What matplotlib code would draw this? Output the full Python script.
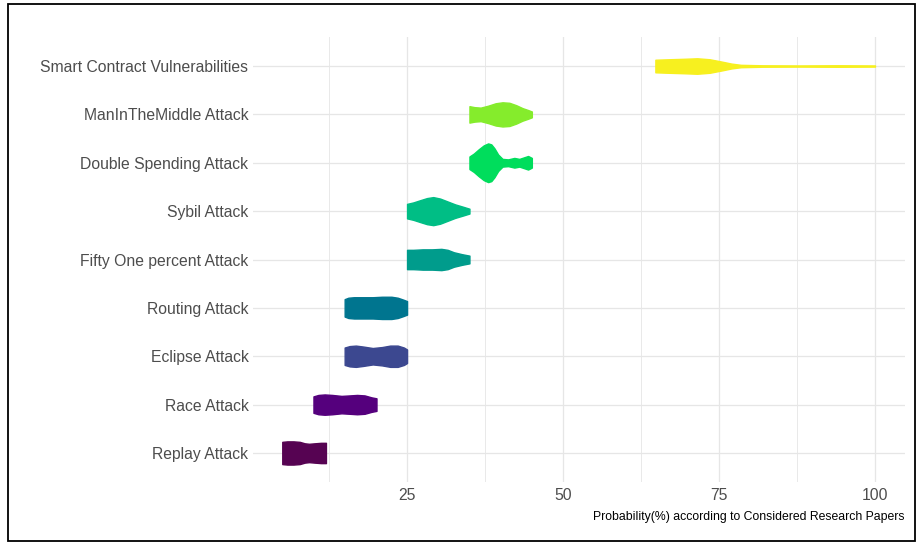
# Attack probability violins (ggplot-like look, viridis palette)

import matplotlib
matplotlib.use('Agg')
import matplotlib.pyplot as plt
from matplotlib.patches import Rectangle

plt.rcParams['font.family'] = ['Liberation Sans', 'DejaVu Sans']

# categories, bottom to top
attacks = ['Replay Attack', 'Race Attack', 'Eclipse Attack', 'Routing Attack',
           'Fifty One percent Attack', 'Sybil Attack', 'Double Spending Attack',
           'ManInTheMiddle Attack', 'Smart Contract Vulnerabilities']

colors = ['#560352', '#55007d', '#3c4890', '#00758f', '#009c8c',
          '#00be85', '#00dd5c', '#85ec2c', '#f7f01f']

# violin profiles: probability (%) and half width (category units)
replay_x = [5.0, 5.8, 6.8, 7.8, 8.6, 9.3, 10.2, 11.2, 12.0]
replay_w = [0.23, 0.24, 0.24, 0.23, 0.20, 0.19, 0.20, 0.21, 0.21]

race_x = [10.0, 10.8, 11.8, 13.0, 14.5, 15.8, 17.0, 18.2, 19.3, 20.1]
race_w = [0.17, 0.20, 0.21, 0.20, 0.18, 0.19, 0.20, 0.19, 0.15, 0.13]

eclipse_x = [15.0, 15.8, 16.8, 18.0, 19.5, 21.0, 22.3, 23.5, 24.5, 25.0]
eclipse_w = [0.18, 0.21, 0.22, 0.20, 0.17, 0.19, 0.22, 0.22, 0.18, 0.14]

routing_x = [15.0, 15.6, 16.5, 18.0, 19.5, 21.0, 22.5, 23.5, 24.4, 25.0]
routing_w = [0.18, 0.21, 0.22, 0.22, 0.22, 0.23, 0.23, 0.21, 0.17, 0.14]

fifty_x = [25.0, 26.0, 27.5, 29.0, 30.5, 31.5, 32.5, 33.8, 35.0]
fifty_w = [0.20, 0.20, 0.21, 0.21, 0.22, 0.20, 0.15, 0.11, 0.08]

sybil_x = [25.0, 26.0, 27.2, 28.2, 29.2, 30.3, 31.5, 32.7, 34.0, 35.0]
sybil_w = [0.15, 0.18, 0.23, 0.27, 0.29, 0.26, 0.20, 0.14, 0.09, 0.05]

double_x = [35.0, 35.7, 36.5, 37.3, 38.0, 38.5, 39.0, 39.6, 40.3, 41.2, 42.2, 43.0, 43.7, 44.4, 45.0]
double_w = [0.13, 0.19, 0.28, 0.36, 0.40, 0.38, 0.30, 0.17, 0.08, 0.07, 0.10, 0.08, 0.11, 0.14, 0.10]

mitm_x = [35.0, 35.8, 36.8, 38.0, 39.2, 40.3, 41.4, 42.5, 43.5, 44.4, 45.0]
mitm_w = [0.17, 0.15, 0.14, 0.18, 0.23, 0.25, 0.24, 0.19, 0.13, 0.09, 0.06]

smart_x = [64.8, 67.0, 69.5, 71.5, 73.5, 75.5, 77.0, 78.5, 82.0, 88.0, 94.0, 100.0]
smart_w = [0.13, 0.14, 0.15, 0.16, 0.14, 0.09, 0.05, 0.025, 0.015, 0.012, 0.016, 0.012]

profiles = [(replay_x, replay_w), (race_x, race_w), (eclipse_x, eclipse_w),
            (routing_x, routing_w), (fifty_x, fifty_w), (sybil_x, sybil_w),
            (double_x, double_w), (mitm_x, mitm_w), (smart_x, smart_w)]

x_ticks = [25, 50, 75, 100]
x_minor = [12.5, 37.5, 62.5, 87.5]

fig = plt.figure(figsize=(9.2, 5.45), dpi=100)
ax = fig.add_axes([0.2746, 0.1156, 0.7087, 0.8165])

for i, (xs, ws) in enumerate(profiles):
    pos = i + 1
    lo = [pos - w for w in ws]
    hi = [pos + w for w in ws]
    ax.fill_between(xs, lo, hi, facecolor=colors[i], edgecolor=colors[i],
                    linewidth=1.0, joinstyle='round', zorder=3)

ax.set_xlim(0.25, 104.75)
ax.set_ylim(0.4, len(attacks) + 0.6)

ax.set_xticks(x_ticks)
ax.set_xticks(x_minor, minor=True)
ax.set_yticks(range(1, len(attacks) + 1))
ax.set_yticklabels(attacks)

ax.grid(which='major', color='#e6e6e6', linewidth=0.9, zorder=0)
ax.grid(which='minor', axis='x', color='#e9e9e9', linewidth=0.7, zorder=0)
ax.set_axisbelow(True)

for s in ax.spines.values():
    s.set_visible(False)
ax.tick_params(axis='both', which='both', length=0, colors='#4d4d4d', labelsize=11.3)
ax.tick_params(axis='y', pad=3)
ax.tick_params(axis='x', pad=4)

ax.set_xlabel('Probability(%) according to Considered Research Papers',
              fontsize=8.8, color='black', loc='right', labelpad=6)

# outer frame around the picture
fig.patches.append(Rectangle((8 / 920, 4 / 545), 907 / 920, 537 / 545,
                             transform=fig.transFigure, fill=False,
                             edgecolor='black', linewidth=1.3))

plt.savefig('out.png', dpi=100)
